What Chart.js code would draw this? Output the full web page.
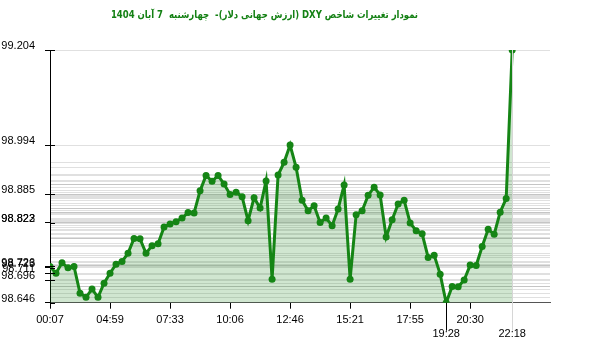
<!DOCTYPE html>
<html>
<head>
<meta charset="utf-8">
<script src="https://cdn.jsdelivr.net/npm/chart.js@4.4.1/dist/chart.umd.min.js"></script>
<style>
  html, body { margin: 0; padding: 0; background: #fff; }
  #wrap { position: relative; width: 600px; height: 352px; }
  #title { position: absolute; left: 0; top: 8px; width: 529px; text-align: center; direction: rtl; white-space: pre;
           font: bold 10.5px "DejaVu Sans Condensed", "DejaVu Sans", sans-serif; color: #138013;
           transform: scaleX(0.9); transform-origin: 264.5px 50%; }
  canvas { position: absolute; left: 0; top: 0; }
</style>
</head>
<body>
<div id="wrap">
  <canvas id="c" width="600" height="352"></canvas>
  <div id="title">نمودار تغییرات شاخص DXY (ارزش جهانی دلار)-  چهارشنبه  7 آبان 1404</div>
</div>
<script>
const values = [
  98.726, 98.711, 98.734, 98.723, 98.726, 98.667, 98.658, 98.676, 98.658, 98.689,
  98.711, 98.731, 98.737, 98.755, 98.788, 98.787, 98.755, 98.772, 98.776, 98.813,
  98.820, 98.825, 98.833, 98.845, 98.844, 98.893, 98.927, 98.914, 98.927, 98.908,
  98.885, 98.890, 98.880, 98.827, 98.878, 98.855, 98.915, 98.698, 98.928, 98.956,
  98.994, 98.945, 98.872, 98.849, 98.860, 98.823, 98.833, 98.816, 98.853, 98.906,
  98.698, 98.840, 98.849, 98.883, 98.901, 98.884, 98.791, 98.829, 98.864, 98.872,
  98.822, 98.805, 98.798, 98.746, 98.751, 98.709, 98.646, 98.682, 98.681, 98.696,
  98.729, 98.728, 98.770, 98.808, 98.797, 98.846, 98.876, 99.204
];
const timeTickIndex = [0, 10, 20, 30, 40, 50, 60, 70];
const timeTickLabels = ['00:07', '04:59', '07:33', '10:06', '12:46', '15:21', '17:55', '20:30'];
const minTimeLabel = '19:28';
const maxTimeLabel = '22:18';
const yLabelTicks = [99.204, 98.994, 98.885, 98.823, 98.822, 98.726, 98.723, 98.711, 98.696, 98.646];

const minIdx = values.indexOf(Math.min(...values));
const maxIdx = values.indexOf(Math.max(...values));
const pts = values.map((v, i) => ({x: i, y: v}));
const yMin = Math.min(...values), yMax = Math.max(...values);
const yAll = Array.from(new Set(values.concat(yLabelTicks))).sort((a, b) => a - b);
const isLabeled = v => yLabelTicks.some(t => Math.abs(t - v) < 1e-9);

const extraLines = {
  id: 'extraLines',
  afterDraw(chart) {
    const ctx = chart.ctx, xs = chart.scales.x, ys = chart.scales.y, a = chart.chartArea;
    ctx.save();
    ctx.strokeStyle = '#000'; ctx.lineWidth = 1;
    yLabelTicks.forEach(v => {
      const py = Math.round(ys.getPixelForValue(v)) + 0.5;
      ctx.beginPath(); ctx.moveTo(a.left, py); ctx.lineTo(a.left + 5, py); ctx.stroke();
    });
    let px = Math.round(xs.getPixelForValue(minIdx)) + 0.5;
    ctx.beginPath(); ctx.moveTo(px, a.bottom); ctx.lineTo(px, a.bottom + 28); ctx.stroke();
    px = Math.round(xs.getPixelForValue(maxIdx)) + 0.5;
    ctx.strokeStyle = '#d6d6d6';
    ctx.beginPath(); ctx.moveTo(px, ys.getPixelForValue(values[maxIdx])); ctx.lineTo(px, a.bottom + 28); ctx.stroke();
    ctx.restore();
  }
};

new Chart(document.getElementById('c'), {
  type: 'line',
  data: {
    datasets: [{
      data: pts,
      borderColor: '#158515',
      backgroundColor: 'rgba(18,130,18,0.2)',
      borderWidth: 3,
      pointRadius: 3.5,
      pointBackgroundColor: '#158515',
      pointBorderColor: '#158515',
      pointBorderWidth: 0,
      fill: 'start',
      tension: 0
    }]
  },
  options: {
    responsive: false,
    animation: false,
    events: [],
    layout: { padding: { top: 50, right: 50, left: 0, bottom: 0 } },
    plugins: { legend: { display: false }, title: { display: false }, tooltip: { enabled: false } },
    scales: {
      x: {
        type: 'linear',
        min: 0,
        max: 83.3,
        afterFit: s => { s.height = 352 - 302.7; },
        afterBuildTicks: s => {
          const arr = timeTickIndex.concat([minIdx, maxIdx]).sort((a, b) => a - b);
          s.ticks = arr.map(v => ({value: v}));
        },
        border: { color: '#555', width: 1 },
        grid: {
          drawOnChartArea: false,
          tickLength: 6,
          tickColor: ctx => (ctx.tick && ctx.tick.value === maxIdx) ? '#d6d6d6' : '#000'
        },
        ticks: {
          autoSkip: false,
          maxRotation: 0,
          padding: 5,
          color: '#000',
          font: { family: 'Liberation Sans', size: 11 },
          callback: v => {
            if (v === minIdx) return ['', minTimeLabel];
            if (v === maxIdx) return ['', maxTimeLabel];
            const k = timeTickIndex.indexOf(v);
            return k >= 0 ? timeTickLabels[k] : '';
          }
        }
      },
      y: {
        type: 'linear',
        min: yMin,
        max: yMax,
        afterFit: s => { s.width = 50; },
        afterBuildTicks: s => { s.ticks = yAll.map(v => ({value: v})); },
        border: { color: '#000', width: 1 },
        grid: {
          color: 'rgba(0,0,0,0.12)',
          tickLength: 5,
          tickColor: ctx => (ctx.tick && isLabeled(ctx.tick.value)) ? '#000' : 'rgba(0,0,0,0)'
        },
        ticks: {
          autoSkip: false,
          padding: 10,
          labelOffset: -4,
          color: '#000',
          font: { family: 'Liberation Sans', size: 11 },
          callback: v => isLabeled(v) ? v.toFixed(3) : ''
        }
      }
    }
  },
  plugins: [extraLines]
});
</script>
</body>
</html>
